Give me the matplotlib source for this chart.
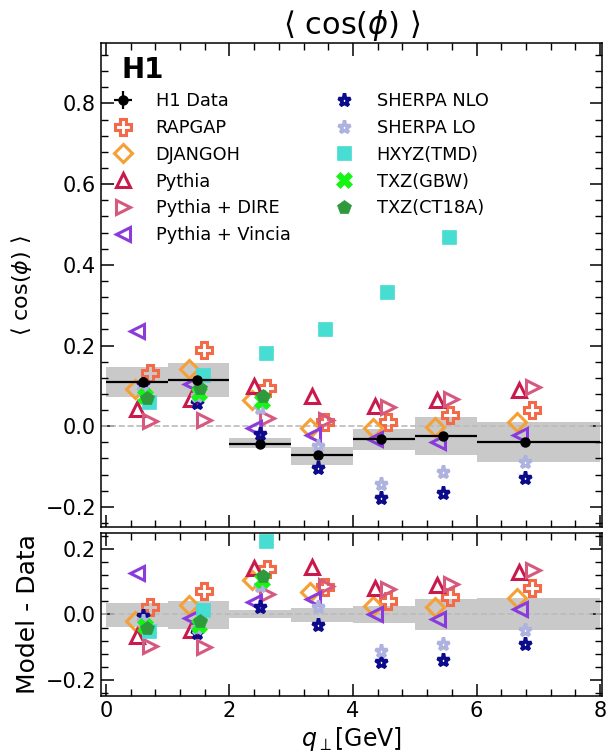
import numpy as np
import matplotlib.pyplot as plt
from matplotlib.ticker import MultipleLocator

# bins in q_perp [GeV]
bin_lo = np.array([0, 1, 2, 3, 4, 5, 6])
bin_hi = np.array([1, 2, 3, 4, 5, 6, 8])

# H1 data
data_x = np.array([0.60, 1.47, 2.49, 3.44, 4.45, 5.46, 6.79])
data_y = np.array([0.110, 0.115, -0.043, -0.072, -0.031, -0.025, -0.040])
data_stat = np.array([0.004, 0.004, 0.004, 0.004, 0.004, 0.004, 0.004])
band_lo = np.array([0.072, 0.072, -0.055, -0.095, -0.058, -0.072, -0.088])
band_hi = np.array([0.146, 0.157, -0.029, -0.052, -0.006, 0.023, 0.011])

# model predictions
rapgap = np.array([0.133, 0.188, 0.095, 0.011, 0.010, 0.028, 0.040])
djangoh = np.array([0.091, 0.143, 0.064, -0.004, -0.004, -0.002, 0.011])
pythia = np.array([0.043, 0.068, 0.100, 0.074, 0.049, 0.066, 0.089])
pythia_dire = np.array([0.013, 0.016, 0.020, 0.015, 0.048, 0.068, 0.097])
pythia_vincia = np.array([0.237, 0.104, -0.005, -0.023, -0.031, -0.040, -0.023])
sherpa_nlo = np.array([0.104, 0.058, -0.019, -0.103, -0.177, -0.166, -0.129])
sherpa_lo = np.array([0.090, 0.075, 0.045, -0.050, -0.144, -0.114, -0.089])
hxyz = np.array([0.060, 0.128, 0.181, 0.240, 0.332, 0.468])
txz_gbw = np.array([0.074, 0.082, 0.062])
txz_ct18a = np.array([0.070, 0.094, 0.075])

# label, values, x offset, marker, color, size, filled
models = [
    ('RAPGAP', rapgap, 0.11, 'P', '#f26a48', 12, False),
    ('DJANGOH', djangoh, -0.13, 'D', '#f5a035', 9, False),
    ('Pythia', pythia, -0.10, '^', '#c81a4c', 10, False),
    ('Pythia + DIRE', pythia_dire, 0.12, '>', '#d65a80', 10, False),
    ('Pythia + Vincia', pythia_vincia, -0.09, '<', '#8a3bdc', 10, False),
    ('SHERPA NLO', sherpa_nlo, 0.0, '*', '#0b0b8c', 9.5, 'star'),
    ('SHERPA LO', sherpa_lo, 0.0, '*', '#aeb2de', 9.5, 'star'),
    ('HXYZ(TMD)', hxyz, 0.10, 's', '#48ddd2', 10, True),
    ('TXZ(GBW)', txz_gbw, 0.03, 'X', '#14f514', 11, True),
    ('TXZ(CT18A)', txz_ct18a, 0.06, 'p', '#2e9a3c', 10, True),
]

fig = plt.figure(figsize=(6.09, 7.53), dpi=100)
ax1 = fig.add_axes([0.1658, 0.3001, 0.8227, 0.6428])
ax2 = fig.add_axes([0.1658, 0.0757, 0.8227, 0.2165], sharex=ax1)

band_col = '#c9c9c9'
ax1.bar(bin_lo, band_hi - band_lo, width=bin_hi - bin_lo, bottom=band_lo,
        align='edge', color=band_col, lw=0, zorder=1)
ax2.bar(bin_lo, band_hi - band_lo, width=bin_hi - bin_lo, bottom=band_lo - data_y,
        align='edge', color=band_col, lw=0, zorder=1)
for ax in (ax1, ax2):
    ax.axhline(0, color='#bbbbbb', ls='--', lw=1.2, zorder=2)

handles = []
h = ax1.errorbar(data_x, data_y, xerr=[data_x - bin_lo, bin_hi - data_x], yerr=data_stat,
                 fmt='o', color='black', ms=6.5, elinewidth=1.6, capsize=0, zorder=20,
                 label='H1 Data')
handles.append(h)

for label, vals, dx, mk, col, ms, filled in models:
    n = len(vals)
    x = data_x[:n] + dx
    if filled == 'star':
        kw = dict(mfc='none', mec=col, mew=2.5)
    elif filled:
        kw = dict(mfc=col, mec=col, mew=0.5)
    else:
        kw = dict(mfc='none', mec=col, mew=2.2)
    h, = ax1.plot(x, vals, ls='none', marker=mk, ms=ms, label=label, zorder=5, **kw)
    ax2.plot(x, vals - data_y[:n], ls='none', marker=mk, ms=ms, zorder=5, **kw)
    handles.append(h)

ax1.set_xlim(-0.08, 8.03)
ax1.set_ylim(-0.25, 0.95)
ax2.set_ylim(-0.25, 0.25)

for ax in (ax1, ax2):
    ax.xaxis.set_major_locator(MultipleLocator(2))
    ax.xaxis.set_minor_locator(MultipleLocator(0.4))
    ax.yaxis.set_major_locator(MultipleLocator(0.2))
    ax.yaxis.set_minor_locator(MultipleLocator(0.04))
    ax.tick_params(which='both', direction='in', top=True, right=True, labelsize=15)
    ax.tick_params(which='major', length=9, width=1.1)
    ax.tick_params(which='minor', length=5, width=1.0)
    for s in ax.spines.values():
        s.set_linewidth(1.1)
ax1.tick_params(labelbottom=False)

ax1.set_title(r'$\langle$ cos($\phi$) $\rangle$', fontsize=22, pad=3)
ax1.set_ylabel(r'$\langle$ cos($\phi$) $\rangle$', fontsize=16, labelpad=8)
ax2.set_ylabel('Model - Data', fontsize=18)
ax2.set_xlabel(r'$q_\perp$[GeV]', fontsize=17, labelpad=3)
fig.align_ylabels([ax1, ax2])

ax1.text(0.04, 0.944, 'H1', transform=ax1.transAxes, fontsize=20, fontweight='bold',
         va='center', ha='left')

ax1.legend(handles=handles, ncol=2, loc='upper left', bbox_to_anchor=(0.022, 0.899),
           frameon=False, fontsize=12.8, handlelength=1.2, handletextpad=1.25,
           columnspacing=2.4, labelspacing=0.5, borderpad=0, borderaxespad=0)

fig.savefig('out.png', dpi=100)
